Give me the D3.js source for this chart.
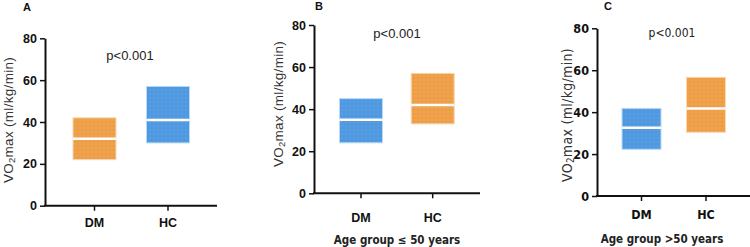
<!DOCTYPE html>
<html><head><meta charset="utf-8">
<script src="https://cdn.jsdelivr.net/npm/d3@7"></script>
<style>body{margin:0;background:#fff}svg{display:block}</style>
</head><body>
<svg id="c" width="750" height="247"></svg>
<script>
const categories = ["DM", "HC"];
const yTicks = [0, 20, 40, 60, 80];
// [min, median, max] per category
const panelA = [[22, 32, 42], [30, 41, 57]];
const panelB = [[24, 35, 45], [33, 42, 57]];
const panelC = [[22.3, 32.6, 41.8], [30.4, 41.7, 56.6]];
const panelLetters = ["A", "B", "C"];
const pLabels = ["p<0.001", "p<0.001", "p<0.001"];
const groupTitles = ["", "Age group \u2264 50 years", "Age group >50 years"];
const colorsA = ["orange", "blue"];
const colorsB = ["blue", "orange"];
const colorsC = ["blue", "orange"];

const svg = d3.select("#c");
const defs = svg.append("defs");
const fills = {orange: "#F5A043", blue: "#4B9AE6"};
Object.entries(fills).forEach(([k, c]) => {
  const p = defs.append("pattern").attr("id", "pat-" + k)
    .attr("patternUnits", "userSpaceOnUse").attr("width", 4).attr("height", 4);
  p.append("rect").attr("width", 4).attr("height", 4).attr("fill", c);
  p.append("circle").attr("cx", 2).attr("cy", 2).attr("r", 0.75).attr("fill", "#9a9aa8").attr("opacity", 0.8);
});

const panels = [
  {data: panelA, colors: colorsA, x0: 45, x1: 217, y0: 205.7, y1: 38.3, pts: [94.5, 168], bw: 43,
   font: "Liberation Sans, Arial, sans-serif", tickSize: 12.5, letter: [27, 11],
   title: [9, 120], titleSize: 13.5, p: [130, 60, 13], xlab: 227, group: null, ltr: 11},
  {data: panelB, colors: colorsB, x0: 314, x1: 480, y0: 193.3, y1: 25, pts: [361, 432.7], bw: 43,
   font: "Liberation Sans, Arial, sans-serif", tickSize: 12.5, letter: [319, 10],
   title: [279, 104], titleSize: 13.5, p: [397, 38, 13], xlab: 222, group: [397, 244], ltr: 11},
  {data: panelC, colors: colorsC, x0: 597, x1: 752, y0: 196, y1: 28.3, pts: [641.5, 706], bw: 39,
   font: "Liberation Sans Narrow, DejaVu Sans Condensed, sans-serif", tickSize: 12.5, letter: [608, 10],
   title: [568, 115], titleSize: 14, p: [672, 37, 12], xlab: 219, group: [662, 243], ltr: 11}
];

panels.forEach((P, i) => {
  const g = svg.append("g");
  const y = d3.scaleLinear().domain([0, 80]).range([P.y0, P.y1]);
  const x = d3.scalePoint().domain(categories).range(P.pts);

  // boxes
  P.data.forEach((d, j) => {
    const cx = x(categories[j]);
    g.append("rect").attr("x", cx - P.bw / 2).attr("y", y(d[2]))
      .attr("width", P.bw).attr("height", y(d[0]) - y(d[2]))
      .attr("fill", "url(#pat-" + P.colors[j] + ")")
      .attr("stroke", P.colors[j] === "orange" ? "#fbd8b0" : "#bcd8f5").attr("stroke-width", 1);
    g.append("line").attr("x1", cx - P.bw / 2).attr("x2", cx + P.bw / 2)
      .attr("y1", y(d[1])).attr("y2", y(d[1]))
      .attr("stroke", "#fff").attr("stroke-width", 2.5);
  });

  // y axis
  const ya = g.append("g").attr("transform", `translate(${P.x0},0)`)
    .call(d3.axisLeft(y).tickValues(yTicks).tickSize(5).tickPadding(3).tickSizeOuter(0));
  ya.select(".domain").attr("stroke", "#111").attr("stroke-width", 2);
  ya.selectAll(".tick line").attr("stroke", "#111").attr("stroke-width", 1.5);
  ya.selectAll("text").attr("font-family", P.font).attr("font-weight", "bold")
    .attr("font-size", P.tickSize).attr("fill", "#111");

  // x axis
  const xa = g.append("g").attr("transform", `translate(0,${P.y0})`);
  xa.append("line").attr("x1", P.x0 - 1).attr("x2", P.x1).attr("y1", 0).attr("y2", 0)
    .attr("stroke", "#111").attr("stroke-width", 2);
  categories.forEach(c => {
    xa.append("line").attr("x1", x(c)).attr("x2", x(c)).attr("y1", 0).attr("y2", 5)
      .attr("stroke", "#111").attr("stroke-width", 1.5);
    xa.append("text").attr("x", x(c)).attr("y", P.xlab - P.y0).attr("text-anchor", "middle")
      .attr("font-family", P.font).attr("font-weight", "bold").attr("font-size", 12.5)
      .attr("fill", "#111").text(c);
  });

  // y title
  const t = g.append("text").attr("transform", `translate(${P.title[0]},${P.title[1]}) rotate(-90)`)
    .attr("text-anchor", "middle").attr("dominant-baseline", "middle")
    .attr("font-family", P.font).attr("font-size", P.titleSize).attr("fill", "#333")
    .attr("letter-spacing", 0.3);
  t.append("tspan").text("VO");
  t.append("tspan").attr("font-size", P.titleSize * 0.7).attr("dy", 3).text("2");
  t.append("tspan").attr("dy", -3).text("max (ml/kg/min)");

  // p label
  g.append("text").attr("x", P.p[0]).attr("y", P.p[1]).attr("text-anchor", "middle")
    .attr("font-family", P.font).attr("font-size", P.p[2]).attr("fill", "#222").text(pLabels[i]);

  // panel letter
  g.append("text").attr("x", P.letter[0]).attr("y", P.letter[1]).attr("text-anchor", "middle")
    .attr("font-family", "Liberation Sans, Arial, sans-serif").attr("font-weight", "bold")
    .attr("font-size", P.ltr).attr("fill", "#111").text(panelLetters[i]);

  if (P.group) {
    g.append("text").attr("x", P.group[0]).attr("y", P.group[1]).attr("text-anchor", "middle")
      .attr("font-family", "Liberation Sans Narrow, DejaVu Sans Condensed, sans-serif")
      .attr("font-weight", "bold").attr("font-size", 11.5).attr("fill", "#222").text(groupTitles[i]);
  }
});
</script>
</body></html>
